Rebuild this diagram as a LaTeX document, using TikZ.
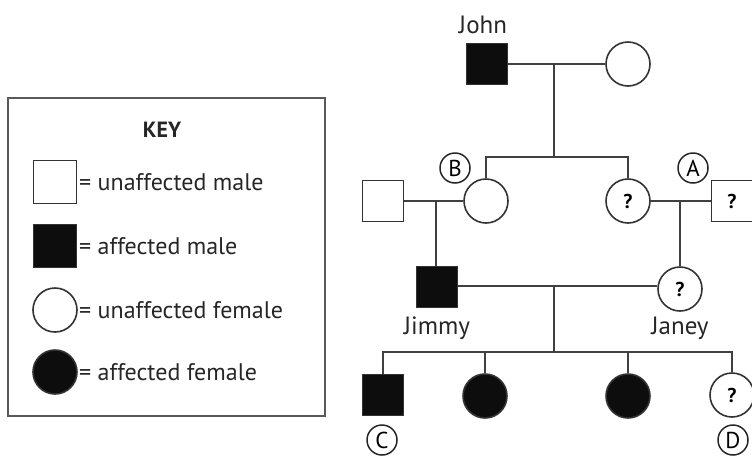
\documentclass[tikz,border=0pt]{standalone}
\usepackage{fontspec}
\setmainfont{PT Sans}
\begin{document}
\begin{tikzpicture}[x=1pt,y=-1pt,
  lc/.style={draw=black!75, line width=1.8pt},
  male/.style={rectangle, draw=black!80, line width=1.6pt, minimum size=41pt, inner sep=0pt, fill=white, font=\fontsize{20}{22}\selectfont\bfseries},
  female/.style={circle, draw=black!80, line width=1.6pt, minimum size=44pt, inner sep=0pt, fill=white, font=\fontsize{20}{22}\selectfont\bfseries},
  aff/.style={fill=black!95},
  tag/.style={circle, draw=black!85, line width=1.5pt, minimum size=30pt, inner sep=0pt, font=\fontsize{23}{25}\selectfont},
  pname/.style={font=\fontsize{25}{27}\selectfont, text=black!85},
  keytxt/.style={anchor=west, font=\fontsize{24}{26}\selectfont, text=black!85, inner sep=0pt}]
\useasboundingbox (0,0) rectangle (752,464);
% key
\node[draw=black!65, line width=2.4pt, minimum width=317pt, minimum height=318pt, inner sep=0pt] (keybox) at (166.5,257) {};
\node[font=\fontsize{22}{24}\selectfont\bfseries, text=black!85] (keytitle) at (162,130) {KEY};
\node[male, minimum size=43pt] (k1) at (55,182) {};
\node[male, aff, minimum size=43pt] (k2) at (55,246) {};
\node[female] (k3) at (55,310) {};
\node[female, aff] (k4) at (55,372) {};
\node[keytxt] (t1) at (79,182) {= unaffected male};
\node[keytxt] (t2) at (79,246) {= affected male};
\node[keytxt] (t3) at (79,310) {= unaffected female};
\node[keytxt] (t4) at (79,372) {= affected female};
% generation 1
\node[male, aff] (john) at (487,64) {};
\node[female] (johnw) at (628,64) {};
\node[pname] (johnlbl) at (483,25) {John};
% generation 2
\node[male] (husB) at (383,201) {};
\node[female] (B) at (486,201) {};
\node[female] (Q) at (628,201) {?};
\node[male] (husA) at (732,201) {?};
\node[tag] (tagB) at (455,168) {B};
\node[tag] (tagA) at (693,168) {A};
% generation 3
\node[male, aff] (jimmy) at (437,287) {};
\node[female] (janey) at (680,289) {?};
\node[pname] (jimmylbl) at (437,328) {Jimmy};
\node[pname] (janeylbl) at (680,328) {Janey};
% generation 4
\node[male, aff] (c) at (383,395) {};
\node[female, aff] (d1) at (485,396) {};
\node[female, aff] (d2) at (628,396) {};
\node[female] (d) at (732,395) {?};
\node[tag] (tagC) at (382,440) {C};
\node[tag] (tagD) at (733,440) {D};
% connectors
\coordinate (m1) at (554,64);
\coordinate (s1) at (554,157);
\draw[lc] (john.east) -- (johnw.west);
\draw[lc] (m1) -- (s1);
\draw[lc] (B.north) -- (B.north |- s1) -- (Q.north |- s1) -- (Q.north);
\coordinate (m2) at (436,201);
\draw[lc] (husB.east) -- (B.west);
\draw[lc] (m2) -- (m2 |- jimmy.north);
\coordinate (m3) at (680,201);
\draw[lc] (Q.east) -- (husA.west);
\draw[lc] (m3) -- (janey.north);
\coordinate (m4) at (554,286);
\coordinate (s4) at (554,352);
\draw[lc] (jimmy.east |- m4) -- (janey.west |- m4);
\draw[lc] (m4) -- (s4);
\draw[lc] (c.north) -- (c.north |- s4) -- (d.north |- s4) -- (d.north);
\draw[lc] (d1.north) -- (d1.north |- s4);
\draw[lc] (d2.north) -- (d2.north |- s4);
\end{tikzpicture}
\end{document}
